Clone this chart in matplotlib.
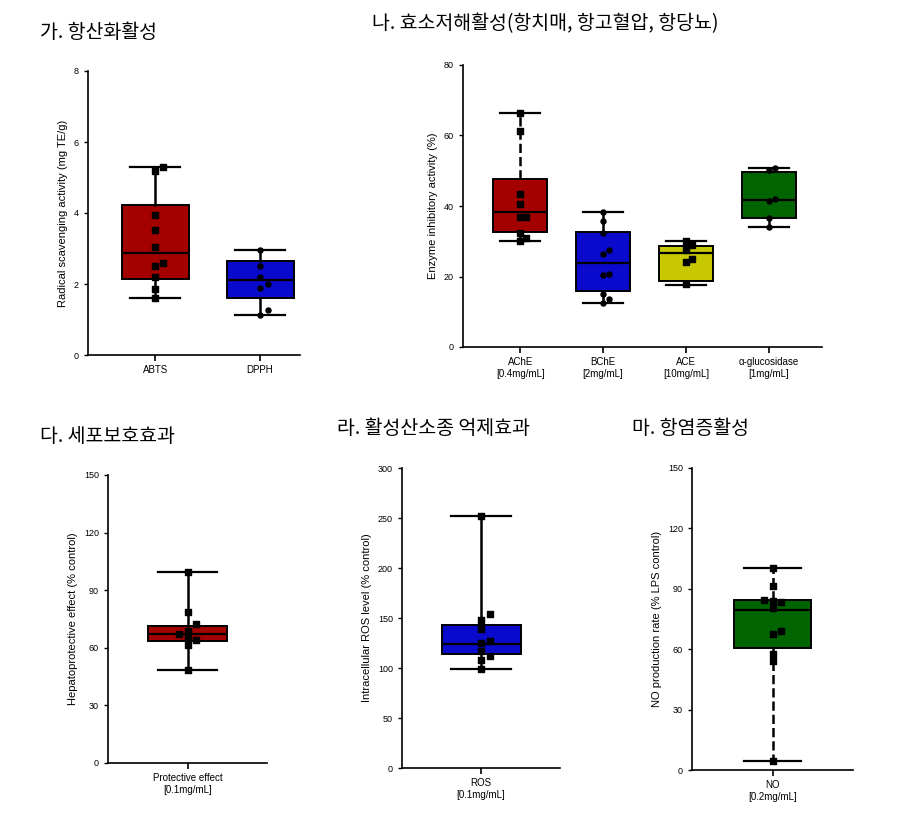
import matplotlib
matplotlib.use("Agg")
import matplotlib.pyplot as plt
import numpy as np

plt.rcParams['font.family'] = ['Liberation Sans', 'DejaVu Sans']

# ---------------- data ----------------
# Panel 가 (antioxidant)
anti_labels = ["ABTS", "DPPH"]
anti_colors = ["#A30000", "#0A0ACC"]
# box stats: whislo, q1, med, q3, whishi
anti_stats = [
    [1.60, 2.14, 2.87, 4.22, 5.29],
    [1.14, 1.60, 2.12, 2.65, 2.97],
]
anti_points = [
    [5.29, 5.17, 3.93, 3.53, 3.04, 2.60, 2.50, 2.19, 1.87, 1.60],
    [2.97, 2.50, 2.20, 2.00, 1.90, 1.28, 1.14],
]

# Panel 나 (enzyme inhibition)
enz_labels = ["AChE\n[0.4mg/mL]", "BChE\n[2mg/mL]", "ACE\n[10mg/mL]", "α-glucosidase\n[1mg/mL]"]
enz_colors = ["#A30000", "#0A0ACC", "#C8C800", "#006400"]
enz_stats = [
    [30.1, 32.7, 38.4, 47.6, 66.3],
    [12.6, 15.9, 23.7, 32.7, 38.2],
    [17.5, 18.8, 26.8, 28.7, 30.1],
    [34.0, 36.5, 41.7, 49.7, 50.7],
]
enz_points = [
    [66.3, 61.4, 43.4, 40.7, 36.9, 36.9, 32.2, 31.0, 30.1],
    [38.2, 35.7, 32.2, 27.5, 26.5, 20.6, 20.5, 15.0, 13.5, 12.6],
    [30.1, 29.0, 27.5, 25.1, 24.0, 17.8],
    [50.7, 50.2, 42.0, 41.5, 36.5, 34.0],
]

# Panel 다 (cell protection)
prot_labels = ["Protective effect\n[0.1mg/mL]"]
prot_stats = [[48.6, 63.3, 67.3, 71.4, 99.7]]
prot_points = [[99.7, 78.9, 72.3, 69.0, 67.0, 65.0, 64.0, 61.6, 48.6]]

# Panel 라 (ROS)
ros_labels = ["ROS\n[0.1mg/mL]"]
ros_stats = [[99.3, 114.3, 124.3, 143.3, 252.3]]
ros_points = [[252.3, 154.3, 148.0, 139.0, 126.7, 125.0, 116.7, 111.7, 108.0, 99.3]]

# Panel 마 (NO)
no_labels = ["NO\n[0.2mg/mL]"]
no_stats = [[4.5, 60.5, 79.6, 84.2, 100.3]]
no_points = [[100.3, 91.2, 84.5, 84.0, 83.5, 80.4, 68.8, 67.6, 57.7, 53.9, 4.5]]

titles = ["가. 항산화활성", "나. 효소저해활성(항치매, 항고혈압, 항당뇨)",
          "다. 세포보호효과", "라. 활성산소종 억제효과", "마. 항염증활성"]

W, H = 897, 815
fig = plt.figure(figsize=(W / 100, H / 100), dpi=100)


def ax_at(left, top, right, bottom):
    return fig.add_axes([left / W, (H - bottom) / H, (right - left) / W, (bottom - top) / H])


def swarm_offsets(vals, tol, step):
    """Simple deterministic swarm: spread points that would overlap."""
    order = np.argsort(vals)
    offs = np.zeros(len(vals))
    placed = []
    for idx in order:
        v = vals[idx]
        k = 0
        cands = [0]
        for j in range(1, 8):
            cands += [j * step, -j * step]
        for c in cands:
            if all(abs(v - pv) > tol or abs(c - po) > step * 0.9 for pv, po in placed):
                offs[idx] = c
                placed.append((v, c))
                break
    return offs


def draw_panel(ax, labels, stats, points, colors, width, ylim, yticks, xlim,
               ylabel, dashed=()):
    pos = np.arange(len(labels))
    for i, s in enumerate(stats):
        b = dict(whislo=s[0], q1=s[1], med=s[2], q3=s[3], whishi=s[4], fliers=[])
        ls = '--' if i in dashed else '-'
        ax.bxp([b], positions=[pos[i]], widths=width, patch_artist=True,
               showfliers=False, capwidths=width * 0.75,
               boxprops=dict(facecolor=colors[i], edgecolor='black', linewidth=1.4),
               medianprops=dict(color='black', linewidth=1.6),
               whiskerprops=dict(color='black', linewidth=1.8, linestyle=ls),
               capprops=dict(color='black', linewidth=1.6))
    span = ylim[1] - ylim[0]
    for i, pts in enumerate(points):
        pts = np.asarray(pts)
        offs = swarm_offsets(pts, span * 0.022, width * 0.11)
        ax.scatter(pos[i] + offs, pts, s=13, color='black', zorder=5,
                   marker='s' if i % 2 == 0 else 'o')
    ax.set_xlim(*xlim)
    ax.set_ylim(*ylim)
    ax.set_yticks(yticks)
    ax.set_xticks(pos)
    ax.set_xticklabels(labels, fontsize=7)
    ax.tick_params(axis='y', labelsize=6.5, length=3, width=1, direction='out')
    ax.tick_params(axis='x', length=4, width=1.2, direction='out')
    for sp in ['top', 'right']:
        ax.spines[sp].set_visible(False)
    for sp in ['left', 'bottom']:
        ax.spines[sp].set_linewidth(1.2)
    ax.set_ylabel(ylabel, fontsize=8)
    ax.patch.set_alpha(0)


ax1 = ax_at(88, 71, 300, 355)
draw_panel(ax1, anti_labels, anti_stats, anti_points, anti_colors, 0.64,
           (0, 8), [0, 2, 4, 6, 8], (-0.64, 1.38),
           "Radical scavenging activity (mg TE/g)")

ax2 = ax_at(463, 65, 822, 347)
draw_panel(ax2, enz_labels, enz_stats, enz_points, enz_colors, 0.65,
           (0, 80), [0, 20, 40, 60, 80], (-0.69, 3.64),
           "Enzyme inhibitory activity (%)", dashed=(0,))

ax3 = ax_at(108, 475, 267, 763)
draw_panel(ax3, prot_labels, prot_stats, prot_points, ["#A30000"], 0.5,
           (0, 150), [0, 30, 60, 90, 120, 150], (-0.5, 0.5),
           "Hepatoprotective effect (% control)")

ax4 = ax_at(402, 468, 560, 768)
draw_panel(ax4, ros_labels, ros_stats, ros_points, ["#0A0ACC"], 0.5,
           (0, 300), [0, 50, 100, 150, 200, 250, 300], (-0.5, 0.5),
           "Intracellular ROS level (% control)")

ax5 = ax_at(692, 468, 853, 770)
draw_panel(ax5, no_labels, no_stats, no_points, ["#006400"], 0.48,
           (0, 150), [0, 30, 60, 90, 120, 150], (-0.5, 0.5),
           "NO production rate (% LPS control)", dashed=(0,))

kfont = ['Noto Sans CJK KR', 'DejaVu Sans']
title_pos = [(40, 32), (372, 24), (40, 437), (337, 428), (632, 428)]
for t, (x, y) in zip(titles, title_pos):
    fig.text(x / W, 1 - y / H, t, fontsize=14, family=kfont, va='center', ha='left')

fig.savefig("out.png", dpi=100)
